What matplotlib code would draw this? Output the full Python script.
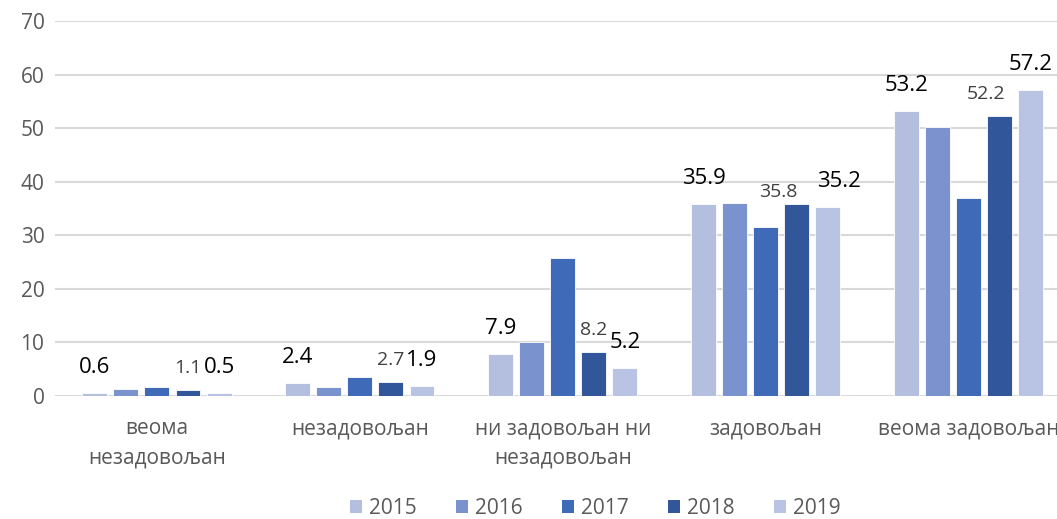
import numpy as np
import matplotlib
matplotlib.use('Agg')
import matplotlib.pyplot as plt
from matplotlib.patches import Patch

plt.rcParams['font.family'] = ['Open Sans', 'DejaVu Sans']

categories = ['веома\nнезадовољан', 'незадовољан', 'ни задовољан ни\nнезадовољан',
              'задовољан', 'веома задовољан']
years = ['2015', '2016', '2017', '2018', '2019']
v2015 = [0.6, 2.4, 7.9, 35.9, 53.2]
v2016 = [1.3, 1.7, 10.1, 36.0, 50.3]
v2017 = [1.7, 3.5, 25.8, 31.5, 37.0]
v2018 = [1.1, 2.7, 8.2, 35.8, 52.2]
v2019 = [0.5, 1.9, 5.2, 35.2, 57.2]
series = [v2015, v2016, v2017, v2018, v2019]
labelled = {'2015': 'big', '2018': 'small', '2019': 'big'}

# label nudges (pixels) where the original moved labels apart
nudge = {('2018', 3): (-19, 7), ('2019', 3): (11, 20), ('2018', 4): (-14, 17)}

colors = ['#B4BFDF', '#7A93CF', '#3F6AB8', '#31579A', '#B9C3E3']

fig = plt.figure(figsize=(10.57, 5.19), dpi=100)
ax = fig.add_axes([0.0525, 0.237, 0.960, 0.7225])

x = np.arange(len(categories))
step = 0.153
width = 0.123
for i, (yr, vals) in enumerate(zip(years, series)):
    pos = x + (i - 2) * step
    ax.bar(pos, vals, width, color=colors[i], edgecolor='white', linewidth=0.6, zorder=3)
    kind = labelled.get(yr)
    if kind is None:
        continue
    for j, (px, v) in enumerate(zip(pos, vals)):
        if kind == 'big':
            off = nudge.get((yr, j), (0, 20))
            ax.annotate(f'{v:.1f}', (px, v), xytext=off, textcoords='offset pixels',
                        ha='center', va='baseline', fontsize=16, color='black', zorder=4)
        else:
            off = nudge.get((yr, j), (0, 17))
            ax.annotate(f'{v:.1f}', (px, v), xytext=off, textcoords='offset pixels',
                        ha='center', va='baseline', fontsize=14, color='#404040', zorder=4)

ax.set_xlim(-0.5, 4.5)
ax.set_ylim(0, 70)
ax.set_yticks(np.arange(0, 71, 10))
ax.yaxis.grid(True, color='#D9D9D9', linewidth=1.5, zorder=0)
ax.set_xticks(x)
ax.set_xticklabels(categories, fontsize=15, color='#595959', linespacing=1.5)
ax.tick_params(axis='y', labelsize=15, labelcolor='#595959', length=0, pad=8)
ax.tick_params(axis='x', length=0, pad=16)
for s in ax.spines.values():
    s.set_visible(False)

handles = [Patch(facecolor=c, edgecolor='none') for c in colors]
fig.legend(handles, years, loc='lower center', bbox_to_anchor=(0.563, -0.036), ncol=5,
           frameon=False, fontsize=15, labelcolor='#595959', handlelength=0.6,
           handleheight=0.6, handletextpad=0.3, columnspacing=1.9)

fig.savefig('out.png', dpi=100)
